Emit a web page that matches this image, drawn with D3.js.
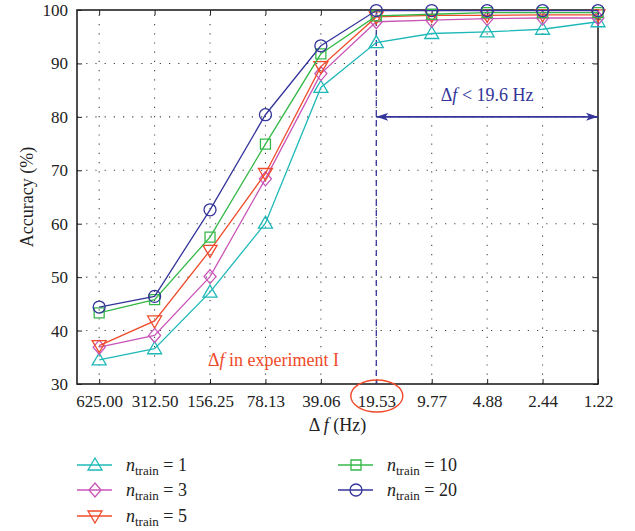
<!DOCTYPE html>
<html>
<head>
<meta charset="utf-8">
<script src="https://cdn.jsdelivr.net/npm/d3@7"></script>
<style>
  body { margin: 0; background: #fff; }
  text { font-family: "Liberation Serif", "Times New Roman", "DejaVu Serif", serif !important; }
  .axis line { stroke: #222; }
  .axis text { fill: #222; font-size: 17px; }
</style>
</head>
<body>
<svg id="chart" width="635" height="531"></svg>
<script>
// ── data ──────────────────────────────────────────────
const categories = ["625.00", "312.50", "156.25", "78.13", "39.06", "19.53", "9.77", "4.88", "2.44", "1.22"];
const yTicks = [30, 40, 50, 60, 70, 80, 90, 100];
const acc1  = [34.5, 36.6, 47.2, 60.1, 85.5, 93.9, 95.6, 95.9, 96.4, 97.8];
const acc3  = [36.9, 39.1, 50.1, 68.4, 88.1, 97.8, 98.1, 98.4, 98.5, 98.5];
const acc5  = [37.2, 41.8, 55.0, 69.4, 89.4, 98.7, 99.0, 99.0, 99.1, 99.1];
const acc10 = [43.3, 45.8, 57.5, 74.9, 91.8, 98.9, 99.2, 99.5, 99.5, 99.5];
const acc20 = [44.4, 46.4, 62.6, 80.4, 93.3, 99.9, 99.9, 99.9, 99.9, 99.9];
const seriesNames = ["1", "3", "5", "10", "20"];
const markerIdx = 5; // 19.53 Hz — experiment I

const series = [
  { n: "1",  values: acc1,  color: "#1fb8b8", shape: "triUp" },
  { n: "3",  values: acc3,  color: "#c955b8", shape: "diamond" },
  { n: "5",  values: acc5,  color: "#f04a2a", shape: "triDown" },
  { n: "10", values: acc10, color: "#35b848", shape: "square" },
  { n: "20", values: acc20, color: "#34359a", shape: "circle" }
];

const svg = d3.select("#chart");
const L = 77, R = 598, T = 10, B = 384;

const x = d3.scaleLinear().domain([-0.4, categories.length - 1]).range([L, R]);
const y = d3.scaleLinear().domain([30, 100]).range([B, T]);

// grid
const grid = svg.append("g").attr("stroke", "#444").attr("stroke-width", 1.1)
  .attr("stroke-dasharray", "1.2,8");
grid.selectAll("line.v").data(categories.slice(0, -1)).join("line")
  .attr("x1", (d, i) => x(i)).attr("x2", (d, i) => x(i))
  .attr("y1", B).attr("y2", T);
grid.selectAll("line.h").data(yTicks.slice(1, -1)).join("line")
  .attr("x1", L).attr("x2", R)
  .attr("y1", d => y(d)).attr("y2", d => y(d));

// axes (inward ticks on all sides)
const xAxis = d3.axisBottom(x).tickValues(d3.range(categories.length))
  .tickFormat(i => categories[i]).tickSize(-5).tickPadding(9).tickSizeOuter(0);
const gx = svg.append("g").attr("class", "axis").attr("transform", `translate(0,${B})`).call(xAxis);
gx.selectAll("text").attr("dy", "0.8em");
svg.append("g").attr("class", "axis").attr("transform", `translate(0,${T})`)
  .call(d3.axisTop(x).tickValues(d3.range(categories.length)).tickFormat("").tickSize(-5).tickSizeOuter(0));

const yAxis = d3.axisLeft(y).tickValues(yTicks).tickSize(-5).tickPadding(9).tickSizeOuter(0);
svg.append("g").attr("class", "axis").attr("transform", `translate(${L},0)`).call(yAxis);
svg.append("g").attr("class", "axis").attr("transform", `translate(${R},0)`)
  .call(d3.axisRight(y).tickValues(yTicks).tickFormat("").tickSize(-5).tickSizeOuter(0));

svg.selectAll(".axis path.domain").remove();
svg.append("rect").attr("x", L).attr("y", T).attr("width", R - L).attr("height", B - T)
  .attr("fill", "none").attr("stroke", "#222").attr("stroke-width", 1.6);

// dashed line at experiment I
svg.append("line")
  .attr("x1", x(markerIdx)).attr("x2", x(markerIdx)).attr("y1", T).attr("y2", B)
  .attr("stroke", "#34359a").attr("stroke-width", 1.3).attr("stroke-dasharray", "6,4");

// arrow Δf < 19.6 Hz
const defs = svg.append("defs");
["start", "end"].forEach(k => {
  defs.append("marker").attr("id", "arr-" + k)
    .attr("viewBox", "0 -5 12 10").attr("refX", k === "end" ? 12 : 0).attr("refY", 0)
    .attr("markerWidth", 12).attr("markerHeight", 10).attr("markerUnits", "userSpaceOnUse")
    .attr("orient", "auto")
    .append("path")
    .attr("d", k === "end" ? "M0,-4L12,0L0,4L3,0Z" : "M12,-4L0,0L12,4L9,0Z")
    .attr("fill", "#34359a");
});
svg.append("line")
  .attr("x1", x(markerIdx)).attr("x2", R).attr("y1", y(80)).attr("y2", y(80))
  .attr("stroke", "#34359a").attr("stroke-width", 1.6)
  .attr("marker-start", "url(#arr-start)").attr("marker-end", "url(#arr-end)");
const tArrow = svg.append("text")
  .attr("x", (x(markerIdx) + R) / 2).attr("y", y(80) - 16)
  .attr("text-anchor", "middle").attr("fill", "#34359a").style("font-size", "18px");
tArrow.append("tspan").text("Δ");
tArrow.append("tspan").style("font-style", "italic").text("f");
tArrow.append("tspan").text(" < 19.6 Hz");

// experiment I annotation
const tExp = svg.append("text").attr("x", 208).attr("y", 366)
  .attr("fill", "#f04a2a").style("font-size", "18px");
tExp.append("tspan").text("Δ");
tExp.append("tspan").style("font-style", "italic").text("f");
tExp.append("tspan").text(" in experiment I");
svg.append("ellipse")
  .attr("cx", x(markerIdx) + 0.5).attr("cy", 396).attr("rx", 26).attr("ry", 16)
  .attr("fill", "none").attr("stroke", "#f04a2a").attr("stroke-width", 1.4);

// markers
function markerPath(shape) {
  switch (shape) {
    case "triUp":   return "M0,-7L7,5L-7,5Z";
    case "triDown": return "M0,7L7,-5L-7,-5Z";
    case "diamond": return "M0,-7L6,0L0,7L-6,0Z";
    case "square":  return "M-5,-5H5V5H-5Z";
    case "circle":  return d3.symbol(d3.symbolCircle, 113)();
  }
}

const line = d3.line().x((d, i) => x(i)).y(d => y(d));
series.forEach(s => {
  const g = svg.append("g");
  g.append("path").attr("d", line(s.values))
    .attr("fill", "none").attr("stroke", s.color).attr("stroke-width", 1.3);
  g.selectAll("path.m").data(s.values).join("path")
    .attr("transform", (d, i) => `translate(${x(i)},${y(d)})`)
    .attr("d", markerPath(s.shape))
    .attr("fill", "none").attr("stroke", s.color).attr("stroke-width", 1.3);
});

// axis titles
svg.append("text")
  .attr("transform", `translate(33,${(T + B) / 2}) rotate(-90)`)
  .attr("text-anchor", "middle").attr("fill", "#222").style("font-size", "18px")
  .text("Accuracy (%)");
const tx = svg.append("text").attr("x", (L + R) / 2).attr("y", 431)
  .attr("text-anchor", "middle").attr("fill", "#222").style("font-size", "18px");
tx.append("tspan").text("Δ ");
tx.append("tspan").style("font-style", "italic").text("f");
tx.append("tspan").text(" (Hz)");

// legend
const legPos = [[77, 465], [77, 490], [77, 516], [338, 465], [338, 490]];
series.forEach((s, k) => {
  const [lx, ly] = legPos[k];
  const g = svg.append("g").attr("transform", `translate(${lx},${ly})`);
  g.append("line").attr("x1", 0).attr("x2", 35).attr("y1", 0).attr("y2", 0)
    .attr("stroke", s.color).attr("stroke-width", 1.3);
  g.append("path").attr("transform", "translate(18,0)").attr("d", markerPath(s.shape))
    .attr("fill", "none").attr("stroke", s.color).attr("stroke-width", 1.3);
  const t = g.append("text").attr("x", 49).attr("y", 6).attr("fill", "#222").style("font-size", "18px");
  t.append("tspan").style("font-style", "italic").text("n");
  t.append("tspan").attr("dy", 4).style("font-size", "13px").text("train");
  t.append("tspan").attr("dy", -4).text(" = " + seriesNames[k]);
});
</script>
</body>
</html>
